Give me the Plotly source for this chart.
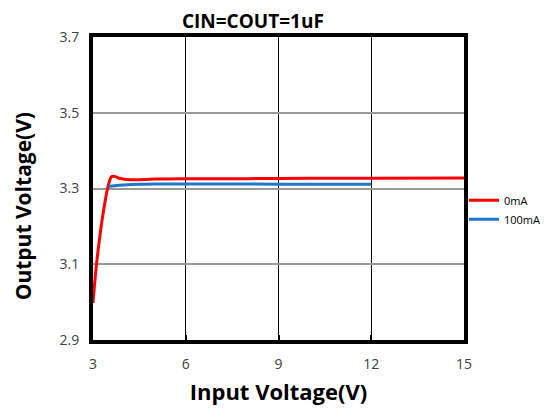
import plotly.graph_objects as go

vin_0ma = [3.0, 3.1, 3.2, 3.3, 3.4, 3.5, 3.6, 3.7, 3.85, 4.2, 5.0, 6.0, 8.0, 10.0, 12.0, 15.0]
vout_0ma = [2.998, 3.09, 3.16, 3.22, 3.27, 3.31, 3.331, 3.332, 3.327, 3.323, 3.325, 3.326, 3.326, 3.327, 3.327, 3.328]

vin_100ma = [3.5, 3.7, 4.0, 4.5, 5.0, 6.0, 8.0, 10.0, 12.0]
vout_100ma = [3.305, 3.307, 3.309, 3.311, 3.312, 3.312, 3.312, 3.311, 3.311]

x_ticks = [3, 6, 9, 12, 15]
y_ticks = [2.9, 3.1, 3.3, 3.5, 3.7]

fig = go.Figure()
fig.add_trace(go.Scatter(x=vin_0ma, y=vout_0ma, mode="lines", name="0mA",
                         line=dict(color="#ff0000", width=3, shape="spline")))
fig.add_trace(go.Scatter(x=vin_100ma, y=vout_100ma, mode="lines", name="100mA",
                         line=dict(color="#1f77c8", width=3, shape="spline")))

font_family = "Open Sans, Liberation Sans, sans-serif"

fig.update_layout(
    width=554, height=412,
    margin=dict(l=85, r=98, t=29, b=80, autoexpand=False),
    paper_bgcolor="white", plot_bgcolor="white",
    title=dict(text="<b>CIN=COUT=1uF</b>", x=0.442, xanchor="center", y=0.968, yanchor="middle",
               font=dict(family=font_family, size=19, color="black")),
    legend=dict(x=1.0, y=0.43, xanchor="left", yanchor="middle",
                font=dict(family=font_family, size=11, color="black"),
                itemwidth=30, tracegroupgap=0, bgcolor="rgba(0,0,0,0)"),
    xaxis=dict(range=[3, 15], tickvals=x_ticks, ticktext=[str(v) for v in x_ticks],
               showgrid=True, gridcolor="black", gridwidth=1,
               showline=True, linecolor="black", linewidth=4, mirror=True,
               ticks="inside", ticklen=5, tickcolor="black", tickwidth=1.5,
               ticklabelstandoff=8,
               tickfont=dict(family=font_family, size=14, color="#404040"),
               title=dict(text="<b>Input Voltage(V)</b>", standoff=14,
                          font=dict(family=font_family, size=22, color="black")),
               zeroline=False),
    yaxis=dict(range=[2.9, 3.7], tickvals=y_ticks, ticktext=["%.1f" % v for v in y_ticks],
               showgrid=True, gridcolor="#999999", gridwidth=1.5,
               showline=True, linecolor="black", linewidth=4, mirror=True,
               ticks="", ticklen=0, ticklabelstandoff=7,
               tickfont=dict(family=font_family, size=14, color="#404040"),
               zeroline=False),
    annotations=[dict(text="<b>Output Voltage(V)</b>", textangle=-90,
                      xref="paper", yref="paper", x=-0.188, y=0.442,
                      xanchor="center", yanchor="middle", showarrow=False,
                      font=dict(family=font_family, size=21, color="black"))],
)

fig.write_html("out.html")
